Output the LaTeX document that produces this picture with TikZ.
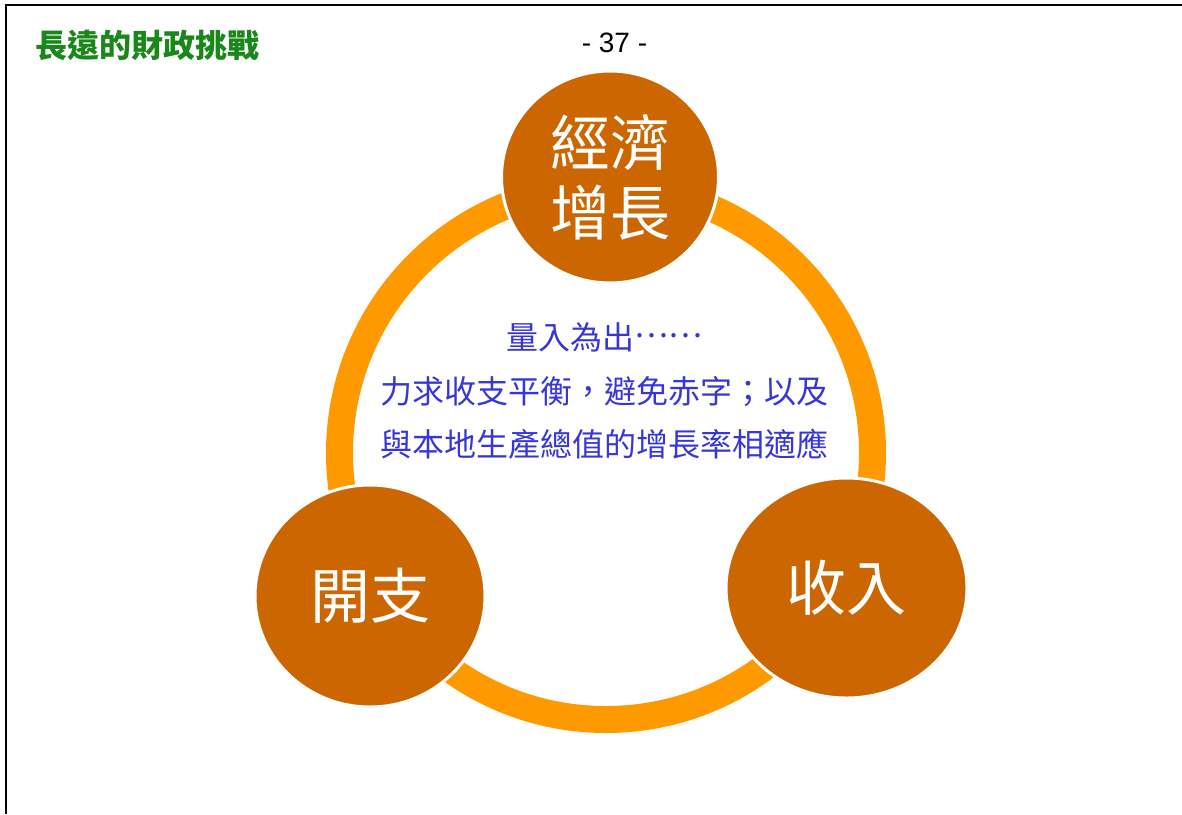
\documentclass[tikz,border=0pt]{standalone}
\usepackage{fontspec}
\setmainfont{Liberation Sans}
\newfontfamily\cjk{Noto Sans CJK TC}
\usepackage{tikz}
\usetikzlibrary{positioning,shapes.geometric}
\definecolor{ringorange}{RGB}{255,153,0}
\definecolor{rust}{RGB}{204,102,0}
\definecolor{titlegreen}{RGB}{25,135,25}
\definecolor{mottoblue}{RGB}{55,55,215}

\begin{document}
\begin{tikzpicture}
[x=0.5pt,y=-0.5pt,
ball/.style={shape=ellipse,fill=rust,draw=white,line width=1.5pt,
  inner sep=0pt,text=white,align=center,
  font=\cjk\fontsize{30}{35}\selectfont},
ring/.style={draw=ringorange,line width=13.5pt},
frame/.style={draw=black,line width=1pt},
motto/.style={text=mottoblue,align=center,
  font=\cjk\fontsize{16}{26.75}\selectfont},
heading/.style={text=titlegreen,anchor=west,inner sep=0pt,
  font=\cjk\bfseries\fontsize{16}{16}\selectfont}]
\useasboundingbox (0,0) rectangle (1182,814);
\draw [frame] (6,814) -- (6,5) -- (1182,5);

\node (title) [heading] at (35,45) {長遠的財政挑戰};
\node (page) [font=\fontsize{14}{14}\selectfont] at (614.5,43) {- 37 -};

% ring
\draw [ring] (606,453) circle [radius=266.5];

\node (growth) [ball,minimum width=108.5pt,minimum height=106pt] at (610,177)
	{經濟\\增長};
\node (spending) [ball,minimum width=115pt,minimum height=111pt] at (370,596)
	{開支};
\node (income) [ball,minimum width=120.5pt,minimum height=110pt] at (846.5,588)
	{收入};

\node (motto) [motto] at (604,391)
	{量入為出\raisebox{0.38em}{……}\\力求收支平衡，避免赤字；以及\\與本地生產總值的增長率相適應};
\end{tikzpicture}
\end{document}
